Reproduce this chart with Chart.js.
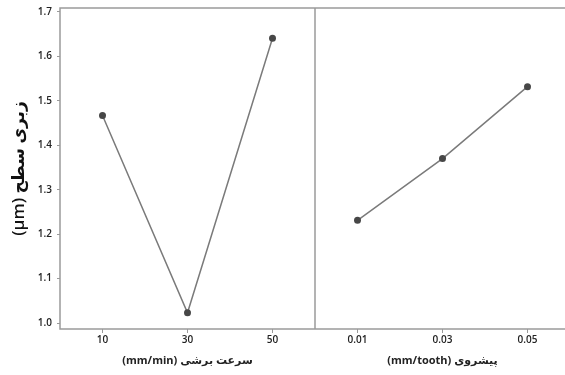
<!DOCTYPE html>
<html>
<head>
<meta charset="utf-8">
<script src="https://cdn.jsdelivr.net/npm/chart.js@4/dist/chart.umd.min.js"></script>
<style>
  html, body { margin: 0; padding: 0; background: #fff; overflow: hidden; }
  #wrap { position: relative; width: 565px; height: 375px; overflow: hidden; }
  #left { position: absolute; left: 0; top: 0; }
  #right { position: absolute; left: 315px; top: 0; }
</style>
</head>
<body>
<div id="wrap">
  <canvas id="left" width="315" height="375" dir="rtl"></canvas>
  <canvas id="right" width="255" height="375" dir="rtl"></canvas>
</div>
<script>
const speedLabels = ['10', '30', '50'];
const speedValues = [1.467, 1.023, 1.641];
const feedLabels = ['0.01', '0.03', '0.05'];
const feedValues = [1.231, 1.37, 1.532];
const yTicks = [1.0, 1.1, 1.2, 1.3, 1.4, 1.5, 1.6, 1.7];

const yTitle = 'زبری سطح (µm)';
const speedTitle = 'سرعت برشی (mm/min)';
const feedTitle = 'پیشروی (mm/tooth)';

const FONT = '"Open Sans", "DejaVu Sans", sans-serif';
const AXIS_GREY = '#9a9a9a';

const frame = {
  id: 'frame',
  afterDraw(chart) {
    const { ctx, chartArea: a } = chart;
    ctx.save();
    ctx.strokeStyle = AXIS_GREY;
    ctx.lineWidth = 1.5;
    ctx.strokeRect(a.left, a.top, a.right - a.left, a.bottom - a.top);
    ctx.restore();
  },
};

function panel(canvas, labels, values, xTitle, showY) {
  return new Chart(canvas, {
    type: 'line',
    data: {
      labels,
      datasets: [{
        data: values,
        borderColor: '#7a7a7a',
        borderWidth: 1.5,
        pointRadius: 3.5,
        pointBackgroundColor: '#474747',
        pointBorderWidth: 0,
        tension: 0,
      }],
    },
    options: {
      responsive: false,
      animation: false,
      layout: { autoPadding: false, padding: { top: 8, right: 0, bottom: 0, left: 0 } },
      plugins: { legend: { display: false }, tooltip: { enabled: false } },
      scales: {
        x: {
          type: 'category',
          offset: true,
          afterFit: (s) => { s.height = 46; s.paddingLeft = 0; s.paddingRight = 0; },
          grid: { drawOnChartArea: false, drawTicks: true, tickLength: 4, color: AXIS_GREY, offset: false },
          border: { display: false },
          ticks: { color: '#222', padding: 1, font: { family: FONT, size: 10, weight: '600' } },
          title: {
            display: true, text: xTitle, color: '#222',
            padding: { top: 0, bottom: 8 },
            font: { family: FONT, size: 11, weight: 'bold' },
          },
        },
        y: {
          display: showY,
          min: 0.9865,
          max: 1.709,
          afterBuildTicks: (s) => { s.ticks = yTicks.map((v) => ({ value: v })); },
          afterFit: (s) => {
            if (showY) s.width = 60;
            s.paddingTop = 0;
            s.paddingBottom = 0;
          },
          grid: { drawOnChartArea: false, drawTicks: true, tickLength: 3, color: AXIS_GREY },
          border: { display: false },
          ticks: {
            color: '#222', padding: 5,
            font: { family: FONT, size: 10, weight: '600' },
            callback: (v) => v.toFixed(1),
          },
          title: {
            display: true, text: yTitle, color: '#111',
            padding: { top: 9, bottom: 0 },
            font: { family: FONT, size: 17, weight: '600' },
          },
        },
      },
    },
    plugins: [frame],
  });
}

panel(document.getElementById('left'), speedLabels, speedValues, speedTitle, true);
panel(document.getElementById('right'), feedLabels, feedValues, feedTitle, false);
</script>
</body>
</html>
